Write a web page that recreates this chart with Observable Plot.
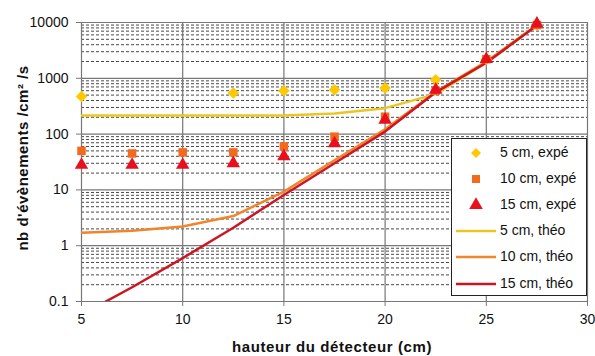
<!DOCTYPE html>
<html>
<head>
<meta charset="utf-8">
<script src="https://cdn.jsdelivr.net/npm/d3@7"></script>
<script src="https://cdn.jsdelivr.net/npm/@observablehq/plot@0.6"></script>
<style>
  body { margin: 0; background: #fff; font-family: "Liberation Sans", Arial, sans-serif; }
  #wrap { position: relative; width: 595px; height: 356px; overflow: hidden; }
  #legend { position: absolute; left: 451px; top: 138px; width: 136px; height: 158px;
            background: #fff; border: 1px solid #222; box-sizing: border-box; }
  .row { position: absolute; left: 0; height: 20px; width: 135px; font-size: 14px; color: #111; }
  .row svg { position: absolute; left: 0; top: 0; }
  .row span { position: absolute; left: 48px; top: 1px; white-space: nowrap; }
  .ylab { position: absolute; left: 22px; top: 158px; transform: translate(-50%,-50%) rotate(-90deg);
          font-weight: bold; font-size: 15px; white-space: nowrap; color: #111; letter-spacing: 0.5px; }
  .xlab { position: absolute; left: 332px; top: 346px; transform: translate(-50%,-50%);
          font-weight: bold; font-size: 15px; white-space: nowrap; color: #111; letter-spacing: 0.6px; }
</style>
</head>
<body>
<div id="wrap"></div>
<script>
// ---- data ----
const xLine = [5, 7.5, 10, 12.5, 15, 17.5, 20, 22.5, 25, 27.5];
const theo5 = [215, 215, 215, 215, 216, 235, 292, 520, 1900, 9000];
const theo10 = [1.7, 1.85, 2.2, 3.4, 9.3, 34, 122, 570, 2000, 9000];
const theo15 = [0.058, 0.18, 0.6, 2.1, 8.1, 30, 111, 560, 1900, 8800];

const xExp5 = [5, 12.5, 15, 17.5, 20, 22.5, 25, 27.5];
const exp5 = [470, 545, 600, 625, 670, 940, 2200, 9000];
const xExp = [5, 7.5, 10, 12.5, 15, 17.5, 20, 22.5, 25, 27.5];
const exp10 = [50, 45, 47, 47, 60, 90, 205, 600, 2200, 9000];
const exp15 = [28, 28, 28, 30, 40, 68, 180, 620, 2200, 9500];

const yTicks = [0.1, 1, 10, 100, 1000, 10000];
const yTickLabels = ["0.1", "1", "10", "100", "1000", "10000"];
const xTicks = [5, 10, 15, 20, 25, 30];
const minorMult = [2, 3, 4, 5, 6, 7, 8, 9];

const seriesNames = ["5 cm, expé", "10 cm, expé", "15 cm, expé", "5 cm, théo", "10 cm, théo", "15 cm, théo"];
const colors = {
  d5: "#FFC800", s10: "#F26A1B", t15: "#E8101C",
  l5: "#EBC623", l10: "#F0852A", l15: "#CC1525"
};

// ---- tables ----
const minorY = yTicks.slice(0, -1).flatMap(d => minorMult.map(m => d * m));
const lines = [
  ...xLine.map((x, i) => ({x, y: theo5[i], s: "l5"})),
  ...xLine.map((x, i) => ({x, y: theo10[i], s: "l10"})),
  ...xLine.map((x, i) => ({x, y: theo15[i], s: "l15"}))
];
const d5 = xExp5.map((x, i) => ({x, y: exp5[i]}));
const s10 = xExp.map((x, i) => ({x, y: exp10[i]}));
const t15 = xExp.map((x, i) => ({x, y: exp15[i]}));

const chart = Plot.plot({
  width: 595,
  height: 356,
  marginLeft: 81,
  marginRight: 8,
  marginTop: 22,
  marginBottom: 55,
  style: { fontFamily: "'Liberation Sans', Arial, sans-serif", fontSize: "14px", color: "#111", background: "white" },
  x: { domain: [5, 30] },
  y: { type: "log", domain: [0.1, 10000] },
  marks: [
    Plot.ruleY(minorY, { stroke: "#333", strokeWidth: 0.9, strokeDasharray: "3,2" }),
    Plot.ruleY(yTicks, { stroke: "#777", strokeWidth: 1.2 }),
    Plot.ruleX(xTicks, { stroke: "#777", strokeWidth: 1.2 }),
    Plot.line(lines, { x: "x", y: "y", z: "s", stroke: d => colors[d.s], strokeWidth: 2.5, clip: true }),
    Plot.dot(d5, { x: "x", y: "y", symbol: "diamond2", fill: colors.d5, r: 5.2 }),
    Plot.dot(s10, { x: "x", y: "y", symbol: "square", fill: colors.s10, r: 4.8 }),
    Plot.dot(t15, { x: "x", y: "y", symbol: "triangle", fill: colors.t15, r: 5 }),
    Plot.axisY(yTicks, { tickSize: 5, tickPadding: 8, tickFormat: d => yTickLabels[yTicks.indexOf(d)], label: null, stroke: "#777", fontSize: 14 }),
    Plot.axisX(xTicks, { tickSize: 5, tickPadding: 8, tickFormat: d => String(d), label: null, stroke: "#777", fontSize: 14 })
  ]
});

const wrap = document.getElementById("wrap");
wrap.appendChild(chart);

// axis titles
const yl = document.createElement("div");
yl.className = "ylab";
yl.textContent = "nb d'évènements /cm² /s";
wrap.appendChild(yl);
const xl = document.createElement("div");
xl.className = "xlab";
xl.textContent = "hauteur du détecteur (cm)";
wrap.appendChild(xl);

// legend
const legend = document.createElement("div");
legend.id = "legend";
const rowTops = [4, 30, 56, 82, 108, 135];
const symbolDefs = [
  {type: "sym", sym: d3.symbolDiamond2, size: 64, color: colors.d5},
  {type: "sym", sym: d3.symbolSquare, size: 64, color: colors.s10},
  {type: "sym", sym: d3.symbolTriangle, size: 80, color: colors.t15},
  {type: "line", color: colors.l5},
  {type: "line", color: colors.l10},
  {type: "line", color: colors.l15}
];
seriesNames.forEach((name, i) => {
  const row = document.createElement("div");
  row.className = "row";
  row.style.top = rowTops[i] + "px";
  const def = symbolDefs[i];
  let svg;
  if (def.type === "sym") {
    svg = `<svg width="48" height="20"><path transform="translate(24,10)" d="${d3.symbol(def.sym, def.size)()}" fill="${def.color}"/></svg>`;
  } else {
    svg = `<svg width="48" height="20"><line x1="4" x2="44" y1="10" y2="10" stroke="${def.color}" stroke-width="2.6"/></svg>`;
  }
  row.innerHTML = svg + `<span>${name}</span>`;
  legend.appendChild(row);
});
wrap.appendChild(legend);
</script>
</body>
</html>
